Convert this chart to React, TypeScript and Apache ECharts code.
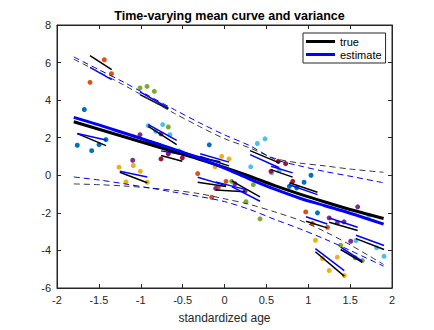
import React, { useEffect, useRef } from "react";
import * as echarts from "echarts";

// Population curves (x grid in standardized age)
const xGrid = [-1.8, -1.5, -1.2, -0.9, -0.6, -0.3, 0, 0.3, 0.6, 0.9, 1.2, 1.5, 1.9];
const meanTrue = [2.85, 2.45, 2.05, 1.65, 1.25, 0.85, 0.42, -0.05, -0.55, -1.0, -1.42, -1.82, -2.3];
const meanEst = [3.08, 2.68, 2.25, 1.82, 1.38, 0.9, 0.38, -0.2, -0.74, -1.22, -1.62, -2.02, -2.6];
const upperTrue = [6.18, 5.5, 4.8, 4.05, 3.3, 2.6, 1.95, 1.46, 0.9, 0.65, 0.5, 0.33, 0.16];
const upperEst = [6.3, 5.62, 4.95, 4.22, 3.5, 2.8, 2.15, 1.58, 0.85, 0.5, 0.2, -0.05, -0.4];
const lowerTrue = [-0.46, -0.5, -0.57, -0.67, -0.8, -0.98, -1.25, -1.55, -1.95, -2.4, -3.0, -3.7, -4.75];
const lowerEst = [-0.09, -0.25, -0.45, -0.67, -0.9, -1.13, -1.4, -1.82, -2.35, -2.85, -3.4, -4.0, -4.84];

// Subjects: colour, observed points, true individual segment, estimated segment
const subjectColors = [
  "#0072BD", "#D95319", "#77AC30", "#4DBEEE", "#EDB120", "#7E2F8E", "#A2142F",
  "#4DBEEE", "#EDB120", "#0072BD", "#D95319", "#7E2F8E", "#77AC30", "#4DBEEE",
  "#A2142F", "#0072BD", "#D95319", "#7E2F8E", "#EDB120", "#77AC30", "#4DBEEE",
];
const subjectPoints: number[][][] = [
  [[-1.758, 1.6], [-1.674, 3.5], [-1.586, 1.31], [-1.498, 1.63], [-1.415, 1.9]],
  [[-1.606, 4.95], [-1.435, 6.15], [-1.35, 5.41]],
  [[-1.009, 4.65], [-0.925, 4.73], [-0.838, 4.47], [-0.671, 2.57]],
  [[-0.91, 2.64], [-0.822, 2.34], [-0.738, 2.7], [-0.651, 2.16], [-0.571, 1.28]],
  [[-1.26, 0.43], [-1.176, -0.35], [-1.089, 0.52], [-1.005, 0.21], [-0.922, -0.37]],
  [[-1.096, 0.8], [-1.009, 2.16], [-0.758, 2.2]],
  [[-0.758, 0.87], [-0.671, 1.14], [-0.504, 0.93]],
  [[-0.54, 1.3], [-0.511, 1.22]],
  [[-0.29, 0.87], [-0.113, 0.45], [-0.034, 1.01], [0.054, 0.87]],
  [[-0.182, 1.62]],
  [[-0.32, 0.09], [-0.153, -1.17], [-0.074, -0.64], [0.018, -0.32]],
  [[-0.105, -0.7], [0.125, -0.45], [0.245, -0.85]],
  [[0.086, -0.32], [0.257, -1.41], [0.344, -0.5], [0.424, -2.32]],
  [[0.313, 0.45], [0.392, 1.69], [0.484, 1.94], [0.563, 0.13], [0.654, 0.25]],
  [[0.555, 0.21], [0.642, 0.74], [0.73, 0.62], [0.814, -0.32]],
  [[0.774, -0.59], [0.862, -0.67], [0.95, -0.37], [1.033, 0.0], [1.11, -2.0]],
  [[0.97, -1.95], [1.05, -2.57], [1.23, -2.77]],
  [[1.25, -2.27], [1.347, -2.53], [1.427, -2.48], [1.507, -3.51], [1.59, -1.68]],
  [[1.085, -3.46], [1.17, -4.43], [1.25, -5.07], [1.347, -4.36], [1.43, -5.34]],
  [[1.387, -3.72], [1.56, -4.39], [1.645, -4.54]],
  [[1.57, -3.47], [1.725, -2.13], [1.817, -3.86], [1.905, -4.31]],
];
const subjectTrue: number[][][] = [
  [[-1.758, 2.22], [-1.415, 1.58]],
  [[-1.606, 6.37], [-1.347, 5.62]],
  [[-1.009, 4.29], [-0.671, 3.53]],
  [[-0.91, 2.61], [-0.571, 1.63]],
  [[-1.25, 0.16], [-0.922, -0.4]],
  [[-1.096, 2.13], [-0.758, 1.5]],
  [[-0.758, 1.05], [-0.504, 0.75]],
  [[-0.54, 1.15], [-0.05, 0.72]],
  [[-0.29, 1.0], [0.054, 0.5]],
  [],
  [[-0.32, -0.37], [0.018, -0.6]],
  [[-0.105, -0.78], [0.245, -0.87]],
  [[0.086, -0.3], [0.424, -1.15]],
  [[0.305, 1.31], [0.654, 0.66]],
  [[0.555, 0.3], [0.814, -0.1]],
  [[0.774, -0.4], [1.11, -0.9]],
  [[0.973, -2.45], [1.227, -2.8]],
  [[1.25, -2.5], [1.59, -2.94]],
  [[1.085, -4.07], [1.43, -5.37]],
  [[1.387, -3.95], [1.645, -4.63]],
  [[1.57, -3.37], [1.905, -3.95]],
];
const subjectEst: number[][][] = [
  [[-1.758, 2.22], [-1.415, 1.88]],
  [[-1.606, 5.74], [-1.347, 5.09]],
  [[-1.009, 4.44], [-0.671, 3.59]],
  [[-0.91, 2.7], [-0.571, 1.86]],
  [[-1.25, 0.21], [-0.922, -0.09]],
  [[-1.096, 2.1], [-0.758, 1.65]],
  [[-0.758, 1.3], [-0.504, 1.1]],
  [[-0.54, 1.3], [-0.05, 0.66]],
  [[-0.29, 1.15], [0.054, 0.7]],
  [],
  [[-0.32, -0.1], [0.018, -0.55]],
  [[-0.105, -0.35], [0.245, -0.75]],
  [[0.086, -0.6], [0.424, -1.38]],
  [[0.305, 1.1], [0.654, 0.4]],
  [[0.555, 0.48], [0.814, 0.13]],
  [[0.774, -0.5], [1.11, -1.03]],
  [[0.973, -2.21], [1.227, -2.59]],
  [[1.25, -2.27], [1.59, -2.77]],
  [[1.085, -3.9], [1.43, -5.07]],
  [[1.387, -3.83], [1.645, -4.57]],
  [[1.57, -3.19], [1.905, -3.74]],
];

const AXIS = "#262626";
const FONT = "Liberation Sans, Arial, Helvetica, sans-serif";

const zip = (xs: number[], ys: number[]) => xs.map((x, i) => [x, ys[i]]);

export default function App() {
  const ref = useRef<HTMLDivElement>(null);
  useEffect(() => {
    document.body.style.margin = "0";
    if (!ref.current) return;
    const chart = echarts.init(ref.current, null, { renderer: "svg" });
    const series: any[] = [];
    subjectPoints.forEach((pts, i) => {
      series.push({
        type: "scatter",
        data: pts,
        symbolSize: 5,
        itemStyle: { color: subjectColors[i], opacity: 1 },
        silent: true,
      });
    });
    subjectTrue.forEach((seg) => {
      if (!seg.length) return;
      series.push({
        type: "line",
        data: seg,
        showSymbol: false,
        lineStyle: { color: "#000000", width: 1.5 },
        silent: true,
      });
    });
    subjectEst.forEach((seg) => {
      if (!seg.length) return;
      series.push({
        type: "line",
        data: seg,
        showSymbol: false,
        lineStyle: { color: "#0000FF", width: 1.5 },
        silent: true,
      });
    });
    const band = (ys: number[], color: string) => ({
      type: "line",
      data: zip(xGrid, ys),
      showSymbol: false,
      smooth: 0.3,
      lineStyle: { color, width: 1, type: [6, 4] },
      silent: true,
    });
    series.push(band(upperTrue, "#3a3a3a"));
    series.push(band(lowerTrue, "#3a3a3a"));
    series.push(band(upperEst, "#0000FF"));
    series.push(band(lowerEst, "#0000FF"));
    series.push({
      name: "true",
      type: "line",
      data: zip(xGrid, meanTrue),
      showSymbol: false,
      smooth: 0.3,
      lineStyle: { color: "#000000", width: 3 },
      itemStyle: { color: "#000000" },
      silent: true,
    });
    series.push({
      name: "estimate",
      type: "line",
      data: zip(xGrid, meanEst),
      showSymbol: false,
      smooth: 0.3,
      lineStyle: { color: "#0000FF", width: 3 },
      itemStyle: { color: "#0000FF" },
      silent: true,
    });

    const tick = { show: true, inside: true, length: 4, lineStyle: { color: AXIS } };
    chart.setOption({
      animation: false,
      backgroundColor: "#ffffff",
      title: {
        text: "Time-varying mean curve and variance",
        left: 224.5,
        textAlign: "center",
        top: 4,
        textStyle: { fontSize: 12.5, fontWeight: "bold", color: "#000", fontFamily: FONT },
      },
      legend: {
        data: ["true", "estimate"],
        orient: "vertical",
        left: 303,
        top: 33,
        padding: [3, 4, 3, 3],
        itemGap: 2,
        itemWidth: 29,
        itemHeight: 3,
        icon: "rect",
        backgroundColor: "#ffffff",
        borderColor: AXIS,
        borderWidth: 1,
        borderRadius: 0,
        textStyle: { fontSize: 11, color: "#000", fontFamily: FONT },
      },
      grid: {
        left: 57,
        right: 42,
        top: 25,
        bottom: 42,
        show: true,
        borderColor: AXIS,
        borderWidth: 1,
        backgroundColor: "transparent",
      },
      xAxis: [
        {
          type: "value",
          min: -2,
          max: 2,
          interval: 0.5,
          axisLine: { show: true, onZero: false, lineStyle: { color: AXIS } },
          axisTick: tick,
          splitLine: { show: false },
          axisLabel: { color: AXIS, fontSize: 11, margin: 6, fontFamily: FONT },
          name: "standardized age",
          nameLocation: "middle",
          nameGap: 24,
          nameTextStyle: { color: AXIS, fontSize: 12, fontFamily: FONT },
        },
        {
          type: "value",
          position: "top",
          min: -2,
          max: 2,
          interval: 0.5,
          axisLine: { show: true, onZero: false, lineStyle: { color: AXIS } },
          axisTick: tick,
          splitLine: { show: false },
          axisLabel: { show: false },
        },
      ],
      yAxis: [
        {
          type: "value",
          min: -6,
          max: 8,
          interval: 2,
          axisLine: { show: true, onZero: false, lineStyle: { color: AXIS } },
          axisTick: tick,
          splitLine: { show: false },
          axisLabel: { color: AXIS, fontSize: 11, margin: 6, fontFamily: FONT },
        },
        {
          type: "value",
          position: "right",
          min: -6,
          max: 8,
          interval: 2,
          axisLine: { show: true, onZero: false, lineStyle: { color: AXIS } },
          axisTick: tick,
          splitLine: { show: false },
          axisLabel: { show: false },
        },
      ],
      series,
    });
    return () => chart.dispose();
  }, []);
  return <div ref={ref} style={{ width: 434, height: 330 }} />;
}
